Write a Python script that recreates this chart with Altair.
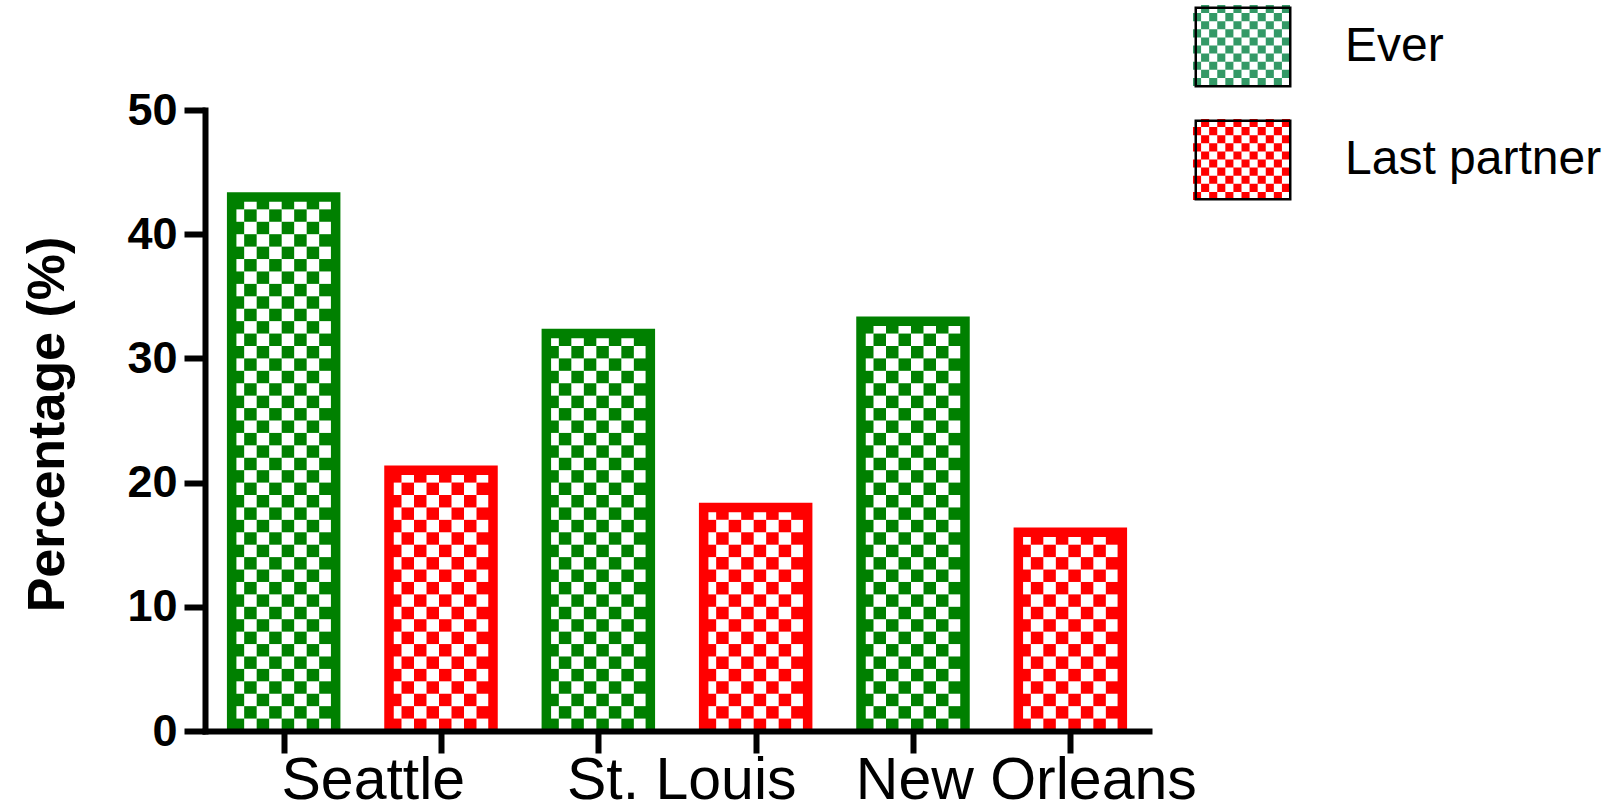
import math
import altair as alt
import pandas as pd

# ---------------- data ----------------
cities = ["Seattle", "St. Louis", "New Orleans"]
series = ["Ever", "Last partner"]
ever = [43, 32, 33]
last_partner = [21, 18, 16]

# ---------------- style / layout ----------------
bar_colors = ["#008000", "#ff0000"]
legend_colors = ["#339966", "#ff0000"]
FONT = "Liberation Sans"
PLOT_W, PLOT_H = 944, 621
LEFT, TOP = 205, 110
TOTAL_W, TOTAL_H = 1614, 812
N_SLOTS = 6
HALF_W = 0.3305                      # half bar width, in slot units
CELL_W = 12.5 / (PLOT_W / N_SLOTS)   # checker cell width, slot units
CELL_H = 1.0                         # checker cell height, % units
label_shift = [0.07, 0.03, 0.22]     # city label offset from pair centre (slots)

# ---------------- tables built from the data ----------------
bars = []
for i, city in enumerate(cities):
    for j, vals in enumerate([ever, last_partner]):
        bars.append({"bar": f"{city}-{series[j]}", "city": city,
                     "series": series[j], "slot": 2 * i + j, "value": vals[i]})
bars_df = pd.DataFrame(bars)

cells = []
outline = []
for b in bars:
    left, right, v = b["slot"] - HALF_W, b["slot"] + HALF_W, b["value"]
    ncols = math.ceil((right - left) / CELL_W - 1e-9)
    nrows = math.ceil(v / CELL_H - 1e-9)
    for r in range(nrows):
        for c in range(ncols):
            if (r + c) % 2 == 0:
                cells.append({"series": b["series"],
                              "x": left + c * CELL_W,
                              "x2": min(left + (c + 1) * CELL_W, right),
                              "y": r * CELL_H,
                              "y2": min((r + 1) * CELL_H, v)})
    for k, (px, py) in enumerate([(left, 0), (left, v), (right, v), (right, 0)]):
        outline.append({"bar": b["bar"], "series": b["series"], "k": k, "x": px, "y": py})
cells_df = pd.DataFrame(cells)
outline_df = pd.DataFrame(outline)

labels_df = pd.DataFrame({"city": cities,
                          "pos": [2 * i + 0.5 + s for i, s in enumerate(label_shift)]})


# legend swatch paths (normalised symbol coordinates)
SW_H = 0.835
def checker_path(cols=12, rows=10, hh=SW_H):
    dx = 2.0 / cols
    dy = 2 * hh / rows
    parts = []
    for r in range(rows):
        for c in range(cols):
            if (r + c) % 2 == 1:
                x0 = -1 + c * dx
                y0 = -hh + r * dy
                parts.append(f"M{x0:.4f},{y0:.4f}h{dx:.4f}v{dy:.4f}h{-dx:.4f}Z")
    return "".join(parts)


# frame inset by half its stroke
FRAME_STROKE = 2.5
_inset = (FRAME_STROKE / 2) / 48.5
frame_path = (f"M{-1 + _inset:.4f},{-SW_H + _inset:.4f}H{1 - _inset:.4f}"
              f"V{SW_H - _inset:.4f}H{-1 + _inset:.4f}Z")

# ---------------- scales ----------------
xs = alt.Scale(domain=[-0.5, N_SLOTS - 0.5], nice=False, zero=False)
ys = alt.Scale(domain=[0, 50], nice=False)
bar_color = alt.Color("series:N", scale=alt.Scale(domain=series, range=bar_colors), legend=None)

x_axis = alt.Axis(values=list(range(N_SLOTS)), labels=False, title=None, grid=False,
                  domainColor="black", domainWidth=6, domainCap="square",
                  tickColor="black", tickWidth=6, tickSize=22, zindex=1)
y_axis = alt.Axis(values=[0, 10, 20, 30, 40, 50], grid=False,
                  domainColor="black", domainWidth=6, domainCap="square",
                  tickColor="black", tickWidth=6, tickSize=21,
                  labelFont=FONT, labelFontSize=45, labelFontWeight="bold",
                  labelColor="black", labelPadding=7,
                  title="Percentage (%)", titleFont=FONT, titleFontSize=52,
                  titleFontWeight="bold", titleColor="black",
                  titleAngle=270, titleAlign="center", titleBaseline="alphabetic",
                  titleX=-142, titleY=314, zindex=1)

cells_layer = alt.Chart(cells_df).mark_rect().encode(
    x=alt.X("x:Q", scale=xs, axis=x_axis),
    x2="x2:Q",
    y=alt.Y("y:Q", scale=ys, axis=y_axis),
    y2="y2:Q",
    color=bar_color,
)

outline_layer = alt.Chart(outline_df).mark_line(
    strokeWidth=9.5, strokeJoin="miter", strokeCap="butt"
).encode(
    x=alt.X("x:Q", scale=xs),
    y=alt.Y("y:Q", scale=ys),
    order="k:Q",
    detail="bar:N",
    color=bar_color,
)

label_layer = alt.Chart(labels_df).mark_text(
    font=FONT, fontSize=59, color="black", baseline="alphabetic", align="center"
).encode(
    x=alt.X("pos:Q", scale=xs),
    y=alt.value(689),
    text="city:N",
)

legend_common = dict(orient="none", legendX=988, legendY=-113, title="",
                     symbolSize=9409, labelOffset=52,
                     labelFont=FONT, labelFontSize=48, labelLimit=500,
                     symbolOpacity=1)

legend_fill_layer = alt.Chart(bars_df).transform_calculate(
    legend_series="datum.series"
).mark_point(filled=True, opacity=0).encode(
    x=alt.X("slot:Q", scale=xs),
    y=alt.Y("value:Q", scale=ys),
    fill=alt.Fill("legend_series:N", scale=alt.Scale(range=legend_colors),
                  legend=alt.Legend(symbolType=checker_path(), symbolStrokeWidth=0,
                                    rowPadding=25, labelExpr="' '", zindex=1,
                                    **legend_common)),
)

legend_frame_layer = alt.Chart(bars_df).transform_calculate(
    frame_series="datum.series"
).mark_point(filled=False, opacity=0).encode(
    x=alt.X("slot:Q", scale=xs),
    y=alt.Y("value:Q", scale=ys),
    stroke=alt.Stroke("frame_series:N", scale=alt.Scale(range=["black", "black"]),
                      legend=alt.Legend(symbolType=frame_path, symbolStrokeWidth=FRAME_STROKE,
                                        symbolFillColor="transparent", symbolStrokeColor="black",
                                        rowPadding=18, labelColor="black", zindex=2,
                                        **legend_common)),
)

chart = alt.layer(
    cells_layer, outline_layer, label_layer, legend_fill_layer, legend_frame_layer
).properties(
    width=PLOT_W, height=PLOT_H, autosize="none",
    padding={"left": LEFT, "top": TOP,
             "right": TOTAL_W - LEFT - PLOT_W, "bottom": TOTAL_H - TOP - PLOT_H},
).configure(font=FONT, background="white").configure_view(strokeWidth=0, stroke="transparent")

chart.save("out.html", embed_options={"renderer": "svg", "actions": False})
